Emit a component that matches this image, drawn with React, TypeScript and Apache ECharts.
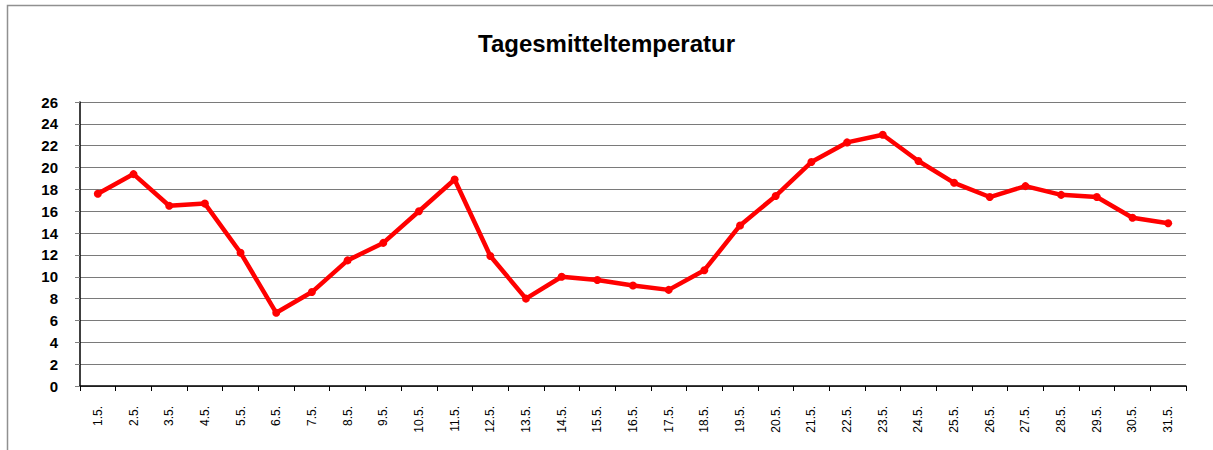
import React, { useEffect, useRef } from "react";
import * as echarts from "echarts";

const titleText = "Tagesmitteltemperatur";
const days = [
  "1.5.", "2.5.", "3.5.", "4.5.", "5.5.", "6.5.", "7.5.", "8.5.", "9.5.", "10.5.",
  "11.5.", "12.5.", "13.5.", "14.5.", "15.5.", "16.5.", "17.5.", "18.5.", "19.5.", "20.5.",
  "21.5.", "22.5.", "23.5.", "24.5.", "25.5.", "26.5.", "27.5.", "28.5.", "29.5.", "30.5.", "31.5.",
];
const temps = [
  17.6, 19.4, 16.5, 16.7, 12.2, 6.7, 8.6, 11.5, 13.1, 16.0,
  18.9, 11.9, 8.0, 10.0, 9.7, 9.2, 8.8, 10.6, 14.7, 17.4,
  20.5, 22.3, 23.0, 20.6, 18.6, 17.3, 18.3, 17.5, 17.3, 15.4, 14.9,
];
const yMin = 0;
const yMax = 26;
const yStep = 2;

export default function App() {
  const ref = useRef<HTMLDivElement>(null);
  useEffect(() => {
    document.body.style.margin = "0";
    const chart = echarts.init(ref.current!, null, { renderer: "svg" });
    const font = "'Liberation Sans', Arial, sans-serif";
    chart.setOption({
      animation: false,
      backgroundColor: "#ffffff",
      title: {
        text: titleText,
        left: "center",
        top: 26,
        textStyle: { fontFamily: font, fontWeight: "bold", fontSize: 24, color: "#000" },
      },
      graphic: [
        {
          type: "rect",
          shape: { x: 7.5, y: 5.5, width: 1400, height: 600 },
          style: { fill: "none", stroke: "#909090", lineWidth: 1.5 },
          silent: true,
        },
      ],
      grid: { left: 80, top: 102, width: 1106, height: 284, containLabel: false },
      xAxis: {
        type: "category",
        data: days,
        boundaryGap: true,
        axisLine: { show: true, lineStyle: { color: "#000", width: 1.5 } },
        axisTick: { show: true, alignWithLabel: false, length: 5, lineStyle: { color: "#000" } },
        axisLabel: {
          rotate: 90,
          interval: 0,
          margin: 20,
          fontFamily: font,
          fontSize: 12,
          color: "#000",
        },
        splitLine: { show: false },
      },
      yAxis: {
        type: "value",
        min: yMin,
        max: yMax,
        interval: yStep,
        axisLine: { show: true, lineStyle: { color: "#000", width: 1.5 } },
        axisTick: { show: true, length: 5, lineStyle: { color: "#808080" } },
        axisLabel: {
          margin: 22,
          fontFamily: font,
          fontSize: 15,
          fontWeight: "bold",
          color: "#000",
        },
        splitLine: { show: true, lineStyle: { color: "#7a7a7a", width: 1 } },
      },
      series: [
        {
          type: "line",
          data: temps,
          symbol: "circle",
          symbolSize: 8,
          lineStyle: { color: "#ff0000", width: 4.5 },
          itemStyle: { color: "#ff0000" },
        },
      ],
    });
    return () => chart.dispose();
  }, []);
  return <div ref={ref} style={{ width: 1213, height: 450 }} />;
}
